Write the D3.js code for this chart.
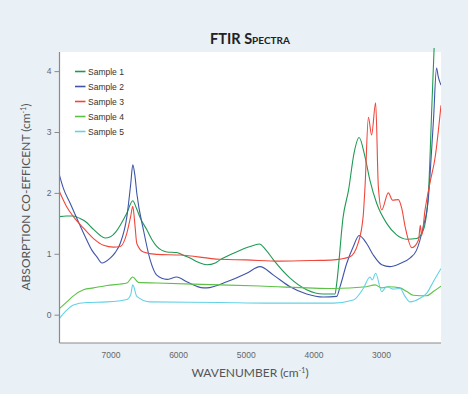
<!DOCTYPE html>
<html>
<head>
<meta charset="utf-8">
<script src="https://cdn.jsdelivr.net/npm/d3@7"></script>
<style>
  body { margin: 0; background: #e9f0f6; }
  svg { display: block; }
</style>
</head>
<body>
<svg id="chart" width="468" height="394"></svg>
<script>
// series: [wavenumber, absorption]
const sampleNames = ['Sample 1', 'Sample 2', 'Sample 3', 'Sample 4', 'Sample 5'];
const sampleColors = ['#1f9a54', '#3f55a8', '#f0473c', '#5cc246', '#62d2e6'];

const sample1 = [[7753,1.61],[7650,1.62],[7550,1.62],[7450,1.58],[7370,1.53],[7250,1.40],[7150,1.30],[7080,1.26],[7000,1.28],[6920,1.36],[6855,1.47],[6760,1.66],[6670,1.87],[6620,1.76],[6560,1.59],[6460,1.39],[6390,1.24],[6315,1.12],[6165,1.03],[6020,1.02],[5930,0.98],[5823,0.93],[5700,0.86],[5575,0.82],[5450,0.85],[5380,0.90],[5180,1.01],[4936,1.12],[4800,1.16],[4700,1.06],[4590,0.90],[4345,0.60],[4100,0.41],[3853,0.34],[3680,0.34],[3655,0.52],[3560,1.61],[3480,2.05],[3400,2.65],[3325,2.91],[3237,2.59],[3165,2.21],[3065,1.83],[2917,1.50],[2770,1.31],[2622,1.24],[2475,1.25],[2375,1.39],[2300,2.00],[2250,3.40],[2215,4.40]];

const sample2 = [[7753,2.29],[7694,2.07],[7595,1.83],[7496,1.58],[7373,1.28],[7275,1.06],[7200,0.95],[7127,0.85],[7004,0.93],[6930,1.02],[6856,1.17],[6757,1.61],[6700,2.15],[6670,2.46],[6640,2.30],[6610,1.99],[6512,1.39],[6413,0.90],[6315,0.65],[6167,0.58],[6020,0.62],[5872,0.54],[5625,0.44],[5575,0.44],[5280,0.54],[4985,0.68],[4790,0.79],[4590,0.65],[4345,0.46],[4100,0.34],[3853,0.29],[3655,0.30],[3606,0.46],[3508,0.84],[3410,1.12],[3325,1.30],[3213,1.17],[3115,0.98],[2990,0.82],[2870,0.79],[2720,0.84],[2573,0.93],[2475,1.06],[2377,1.44],[2303,1.88],[2253,2.70],[2225,3.20],[2180,4.05],[2155,3.91],[2114,3.77]];

const sample3 = [[7753,2.02],[7645,1.77],[7547,1.61],[7398,1.42],[7250,1.25],[7102,1.14],[6955,1.11],[6856,1.12],[6757,1.34],[6700,1.62],[6670,1.78],[6640,1.50],[6610,1.17],[6512,1.03],[6315,0.99],[5971,0.98],[5380,0.91],[5000,0.90],[4500,0.88],[4000,0.89],[3700,0.90],[3460,0.95],[3340,1.17],[3265,1.61],[3237,2.10],[3187,3.24],[3140,2.95],[3080,3.48],[3040,2.10],[2990,1.72],[2893,2.00],[2830,1.88],[2745,1.89],[2695,1.75],[2643,1.44],[2545,1.10],[2445,1.23],[2420,1.47],[2400,1.30],[2350,1.72],[2278,2.16],[2200,2.59],[2114,3.44]];

const sample4 = [[7753,0.10],[7645,0.21],[7547,0.31],[7398,0.41],[7250,0.44],[7053,0.48],[6757,0.52],[6670,0.62],[6587,0.53],[6315,0.52],[5380,0.49],[4790,0.47],[3705,0.43],[3215,0.46],[3090,0.49],[2990,0.44],[2893,0.46],[2720,0.44],[2620,0.38],[2524,0.32],[2327,0.31],[2228,0.38],[2114,0.47]];

const sample5 = [[7753,-0.06],[7668,0.05],[7547,0.16],[7350,0.20],[7053,0.21],[6757,0.25],[6700,0.33],[6670,0.49],[6610,0.30],[6413,0.21],[5380,0.20],[4700,0.19],[3705,0.19],[3410,0.24],[3263,0.43],[3164,0.62],[3130,0.57],[3080,0.68],[2990,0.38],[2917,0.46],[2820,0.42],[2720,0.43],[2645,0.30],[2572,0.21],[2424,0.27],[2327,0.35],[2228,0.54],[2114,0.76]];

const samples = [sample1, sample2, sample3, sample4, sample5];
const yTicks = [0, 1, 2, 3, 4];
const xTicks = [7000, 6000, 5000, 4000, 3000];

const plot = { left: 59.5, right: 441, top: 52, bottom: 343 };

const svg = d3.select('#chart');

const x = d3.scaleLinear().domain([7753, 2114]).range([plot.left, plot.right]);
const y = d3.scaleLinear().domain([-0.465, 4.314]).range([plot.bottom, plot.top]);

// white plot background
svg.append('rect')
  .attr('x', plot.left).attr('y', plot.top)
  .attr('width', plot.right - plot.left).attr('height', plot.bottom - plot.top)
  .attr('fill', '#fff');

svg.append('clipPath').attr('id', 'clip')
  .append('rect')
  .attr('x', plot.left).attr('y', plot.top - 4)
  .attr('width', plot.right - plot.left).attr('height', plot.bottom - plot.top + 4);

const line = d3.line()
  .x(d => x(d[0]))
  .y(d => y(d[1]))
  .curve(d3.curveMonotoneX);

svg.append('g').attr('clip-path', 'url(#clip)')
  .selectAll('path')
  .data(samples)
  .enter()
  .append('path')
  .attr('d', line)
  .attr('fill', 'none')
  .attr('stroke', (d, i) => sampleColors[i])
  .attr('stroke-width', 1.1);

// axes
const yAxis = svg.append('g')
  .attr('transform', `translate(${plot.left},0)`)
  .call(d3.axisLeft(y).tickValues(yTicks).tickFormat(d3.format('d')).tickSize(5).tickPadding(3));
yAxis.select('.domain').attr('d', `M0,${plot.top}V${plot.bottom}`);

const xAxis = svg.append('g')
  .attr('transform', `translate(0,${plot.bottom})`)
  .call(d3.axisBottom(x).tickValues(xTicks).tickFormat(d3.format('d')).tickSize(0).tickPadding(9));
xAxis.select('.domain').attr('d', `M${plot.left},0H${plot.right}`);

svg.selectAll('.domain').attr('stroke', '#8a8a8a').attr('stroke-width', 1.2);
svg.selectAll('.tick line').attr('stroke', '#8a8a8a');
svg.selectAll('.tick text')
  .attr('fill', '#666')
  .style('font-family', 'Liberation Sans, Arial, sans-serif')
  .style('font-size', '8.5px');

// legend
const legend = svg.append('g');
sampleNames.forEach((name, i) => {
  const ly = 71.5 + i * 15;
  legend.append('line')
    .attr('x1', 75).attr('x2', 85.5)
    .attr('y1', ly).attr('y2', ly)
    .attr('stroke', sampleColors[i]).attr('stroke-width', 1.6);
  legend.append('text')
    .attr('x', 88).attr('y', ly + 3)
    .attr('fill', '#333')
    .style('font-family', 'Liberation Sans, Arial, sans-serif')
    .style('font-size', '8.5px')
    .text(name);
});

// title
svg.append('text')
  .attr('x', 250).attr('y', 44)
  .attr('text-anchor', 'middle')
  .attr('fill', '#222')
  .style('font-family', 'Lato, sans-serif')
  .style('font-weight', 'bold')
  .style('font-size', '14.5px')
  .style('font-variant', 'small-caps')
  .text('FTIR Spectra');

// axis titles
const xt = svg.append('text')
  .attr('x', 250).attr('y', 377)
  .attr('text-anchor', 'middle')
  .attr('fill', '#555')
  .style('font-family', 'Lato, sans-serif')
  .style('font-size', '12px');
xt.append('tspan').text('WAVENUMBER (cm');
xt.append('tspan').attr('dy', -4).style('font-size', '7px').text('-1');
xt.append('tspan').attr('dy', 4).text(')');

const yt = svg.append('text')
  .attr('transform', 'translate(30,197) rotate(-90)')
  .attr('text-anchor', 'middle')
  .attr('fill', '#555')
  .style('font-family', 'Lato, sans-serif')
  .style('font-size', '12px');
yt.append('tspan').text('ABSORPTION CO-EFFICENT (cm');
yt.append('tspan').attr('dy', -4).style('font-size', '7px').text('-1');
yt.append('tspan').attr('dy', 4).text(')');
</script>
</body>
</html>
